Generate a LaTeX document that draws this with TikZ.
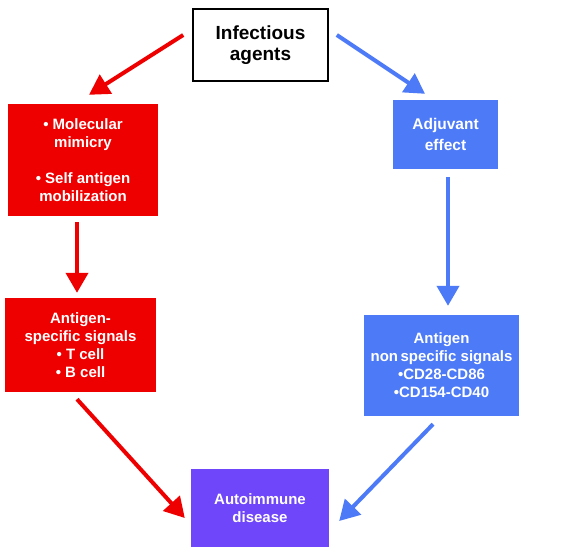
\documentclass[tikz,border=0pt]{standalone}
\usepackage{fontspec}
\setmainfont{Liberation Sans}
\usetikzlibrary{arrows.meta}

\begin{document}
\begin{tikzpicture}[>={Triangle[length=20pt,width=22pt]}, x=1pt, y=-1pt,
  box/.style={inner sep=0pt, align=center, text=white, font=\fontsize{15}{18}\selectfont\bfseries},
  redarrow/.style={->, line width=4pt, color=agentred},
  bluearrow/.style={->, line width=4pt, color=adjblue}]

\definecolor{agentred}{RGB}{238,0,0}
\definecolor{adjblue}{RGB}{77,122,247}
\definecolor{autopurple}{RGB}{111,70,250}

\useasboundingbox (0,0) rectangle (561,549);

\node[draw=black, line width=1.6pt, fill=white, minimum width=135pt, minimum height=72pt, align=center,
  font=\fontsize{19}{21}\selectfont\bfseries] (infect) at (260.5,45) {Infectious\\agents};

\node[box, fill=agentred, minimum width=150pt, minimum height=112pt] (mimic) at (83,160)
  {\textbullet\ Molecular\\mimicry\\[18pt]\textbullet\ Self antigen\\mobilization};
\node[box, fill=agentred, minimum width=151pt, minimum height=94pt] (spec) at (80.5,345)
  {Antigen-\\specific signals\\\textbullet\ T cell\\\textbullet\ B cell};

\node[box, fill=adjblue, minimum width=105pt, minimum height=69pt, font=\fontsize{15.5}{21}\selectfont\bfseries] (adjuv) at (445.5,134.5)
  {Adjuvant\\effect};
\node[box, fill=adjblue, minimum width=155pt, minimum height=101pt] (nonspec) at (441.5,365.5)
  {Antigen\\non\,specific signals\\\textbullet CD28-CD86\\\textbullet CD154-CD40};

\node[box, fill=autopurple, minimum width=138pt, minimum height=78pt] (auto) at (260,508)
  {Autoimmune\\disease};

\draw[redarrow] ([xshift=-9pt,yshift=10pt]infect.west) -- ([xshift=6pt,yshift=9pt]mimic.north);
\draw[redarrow] ([xshift=-6pt,yshift=-6pt]mimic.south) -- ([xshift=-3.5pt,yshift=5pt]spec.north);
\draw[redarrow] ([xshift=-3.5pt,yshift=-7pt]spec.south) -- ([xshift=-6pt,yshift=-10pt]auto.west);

\draw[bluearrow] ([xshift=8pt,yshift=10pt]infect.east) -- ([xshift=-20.5pt,yshift=6pt]adjuv.north);
\draw[bluearrow] ([xshift=2.5pt,yshift=-8pt]adjuv.south) -- ([xshift=6.5pt,yshift=9pt]nonspec.north);
\draw[bluearrow] ([xshift=-8.5pt,yshift=-8pt]nonspec.south) -- ([xshift=10pt,yshift=-13pt]auto.east);

\end{tikzpicture}
\end{document}
